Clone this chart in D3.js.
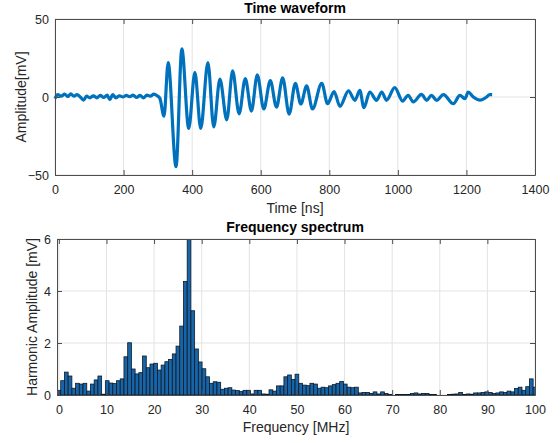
<!DOCTYPE html>
<html>
<head>
<meta charset="utf-8">
<script src="https://cdn.jsdelivr.net/npm/d3@7"></script>
<style>
  body { margin: 0; background: #fff; }
  svg { display: block; font-family: "Liberation Sans", Arial, sans-serif; }
  .tick text { fill: #262626; }
</style>
</head>
<body>
<svg width="560" height="443"></svg>
<script>
// time waveform (extrema and noise points)
var timeNs = [0, 8, 18, 28, 38, 46, 55, 64, 74, 83, 92, 102, 112, 122, 132, 142, 152, 160, 168, 178,
  188, 198, 208, 218, 228, 238, 248, 258, 268, 278, 288, 298, 306, 318, 330, 353, 370, 390, 408, 425,
  446, 463, 481, 501, 518, 537, 555, 573, 590, 609, 628, 646, 664, 683, 701, 717, 734, 751, 778, 795,
  814, 831, 856, 875, 889, 901, 918, 938, 953, 967, 991, 1014, 1030, 1045, 1069, 1084, 1098, 1113, 1133, 1162,
  1181, 1196, 1205, 1220, 1240, 1259, 1268, 1275];
var amplitudeMv = [-1, 1.5, 0.5, 1.8, 0.3, 2, 0.5, 1.5, 0, -2, 0.5, -0.5, 0.8, -0.5, 1, -0.3, 1.2, -1.7, 1.5, -0.5,
  0.8, 0, 1, 0.2, 1.2, -0.3, 1, -0.5, 1.2, 0.5, 1.8, 0.8, -1, -12.3, 22, -44.7, 30.8, -20.2, 15.8, -20.2,
  22, -19.2, 11.4, -14.6, 16.7, -10.8, 11.8, -9, 14.2, -7.7, 10.5, -6.5, 12.2, -11, 8.8, -4.5, 7.1, -7.7, 8.8, -4.3,
  3.5, -6, 3.9, -2.1, 4.3, -6.9, 3.2, -2.1, 3.2, -2.1, 6, -2.6, 1.1, -3.2, 1.7, -2.1, 1.1, -2.1, 1.5, -4.3,
  1.1, -1.1, 3.2, 0, -2, 0, 1.5, 1.5];

// spectrum, one bar per 0.78125 MHz bin
var binMHz = 0.78125;
var spectrumMv = [
  0.18, 0.55, 0.88, 0.73, 0.26, 0.45, 0.42, 0.45, 0.15, 0.42,
  0.58, 0.73, 0.03, 0.55, 0.46, 0.44, 0.55, 0.62, 1.47, 2.01,
  1.0, 0.81, 0.86, 1.5, 1.05, 1.19, 1.22, 0.96, 1.15, 1.28,
  1.37, 1.58, 1.88, 2.65, 4.37, 6.05, 3.24, 1.77, 1.27, 1.01,
  0.7, 0.45, 0.51, 0.49, 0.22, 0.26, 0.28, 0.19, 0.17, 0.13,
  0.18, 0.18, 0.04, 0.18, 0.18, 0.04, 0.03, 0.2, 0.15, 0.35,
  0.35, 0.7, 0.77, 0.6, 0.8, 0.45, 0.38, 0.36, 0.45, 0.42,
  0.26, 0.3, 0.28, 0.35, 0.4, 0.45, 0.52, 0.42, 0.3, 0.28,
  0.3, 0.08, 0.1, 0.1, 0.06, 0.12, 0.04, 0.12, 0.06, 0.02,
  0.0, 0.02, 0.02, 0.02, 0.02, 0.06, 0.08, 0.04, 0.06, 0.06,
  0.02, 0.02, 0.0, 0.0, 0.0, 0.02, 0.03, 0.04, 0.1, 0.02,
  0.04, 0.03, 0.08, 0.08, 0.1, 0.12, 0.1, 0.06, 0.08, 0.12,
  0.1, 0.15, 0.12, 0.25, 0.3, 0.18, 0.32, 0.62, 0.3];

var timeTicks = [0, 200, 400, 600, 800, 1000, 1200, 1400];
var ampTicks = [-50, 0, 50];
var freqTicks = [0, 10, 20, 30, 40, 50, 60, 70, 80, 90, 100];
var specTicks = [0, 2, 4, 6];

var svg = d3.select("svg");
svg.append("rect").attr("width", 560).attr("height", 443).attr("fill", "#fff");

var blue = "#0072BD", axisCol = "#4d4d4d", gridCol = "#e3e3e3";
var fmt = d3.format("d");

function drawFrame(g, x, y, xt, yt, w, h) {
  // grid
  g.append("g").selectAll("line").data(xt).join("line")
    .attr("x1", d => x(d)).attr("x2", d => x(d)).attr("y1", 0).attr("y2", h)
    .attr("stroke", gridCol);
  g.append("g").selectAll("line").data(yt).join("line")
    .attr("x1", 0).attr("x2", w).attr("y1", d => y(d)).attr("y2", d => y(d))
    .attr("stroke", gridCol);
}

function drawAxes(g, x, y, xt, yt, w, h) {
  var ax = [
    g.append("g").attr("transform", "translate(0," + h + ")")
      .call(d3.axisBottom(x).tickValues(xt).tickFormat(fmt).tickSizeInner(-5).tickSizeOuter(0).tickPadding(10)),
    g.append("g").call(d3.axisTop(x).tickValues(xt).tickSizeInner(-5).tickSizeOuter(0).tickFormat("")),
    g.append("g").call(d3.axisLeft(y).tickValues(yt).tickFormat(fmt).tickSizeInner(-5).tickSizeOuter(0).tickPadding(6)),
    g.append("g").attr("transform", "translate(" + w + ",0)")
      .call(d3.axisRight(y).tickValues(yt).tickSizeInner(-5).tickSizeOuter(0).tickFormat(""))
  ];
  ax.forEach(function(a) {
    a.selectAll("path, line").attr("stroke", axisCol);
    a.selectAll("text").style("font-size", "12.5px");
  });
}

// ---- top: time waveform
var t = {left: 55, top: 19, w: 480, h: 156};
var x1 = d3.scaleLinear().domain([0, 1400]).range([0, t.w]);
var y1 = d3.scaleLinear().domain([-50, 50]).range([t.h, 0]);
var g1 = svg.append("g").attr("transform", "translate(" + t.left + "," + t.top + ")");
drawFrame(g1, x1, y1, timeTicks, ampTicks, t.w, t.h);

var wave = timeNs.map((d, i) => [d, amplitudeMv[i]]);
g1.append("path").datum(wave)
  .attr("fill", "none").attr("stroke", blue).attr("stroke-width", 3.2)
  .attr("stroke-linejoin", "round")
  .attr("d", d3.line().x(d => x1(d[0])).y(d => y1(d[1])).curve(d3.curveMonotoneX));
drawAxes(g1, x1, y1, timeTicks, ampTicks, t.w, t.h);

svg.append("text").attr("x", 295).attr("y", 13).attr("text-anchor", "middle")
  .style("font-size", "14px").style("font-weight", "bold").text("Time waveform");
svg.append("text").attr("x", 295).attr("y", 213).attr("text-anchor", "middle")
  .style("font-size", "14px").attr("fill", "#262626").text("Time [ns]");
svg.append("text").attr("transform", "translate(26," + (t.top + t.h / 2) + ") rotate(-90)")
  .attr("text-anchor", "middle").style("font-size", "14px").attr("fill", "#262626").text("Amplitude[mV]");

// ---- bottom: frequency spectrum
var b = {left: 57, top: 239, w: 478, h: 156};
var x2 = d3.scaleLinear().domain([-binMHz / 2, 100]).range([0, b.w]);
var y2 = d3.scaleLinear().domain([0, 6]).range([b.h, 0]);
var g2 = svg.append("g").attr("transform", "translate(" + b.left + "," + b.top + ")");
svg.append("clipPath").attr("id", "specclip").append("rect").attr("width", b.w).attr("height", b.h);
drawFrame(g2, x2, y2, freqTicks, specTicks, b.w, b.h);

var bw = x2(binMHz) - x2(0);
g2.append("g").attr("clip-path", "url(#specclip)")
  .selectAll("rect").data(spectrumMv).join("rect")
  .attr("x", (d, i) => x2(i * binMHz) - bw / 2)
  .attr("width", bw)
  .attr("y", d => y2(d))
  .attr("height", d => y2(0) - y2(d))
  .attr("fill", "#1765a8").attr("stroke", "#0d1a26").attr("stroke-width", 0.8);
drawAxes(g2, x2, y2, freqTicks, specTicks, b.w, b.h);

svg.append("text").attr("x", 295).attr("y", 232).attr("text-anchor", "middle")
  .style("font-size", "14px").style("font-weight", "bold").text("Frequency spectrum");
svg.append("text").attr("x", 296).attr("y", 432).attr("text-anchor", "middle")
  .style("font-size", "14px").attr("fill", "#262626").text("Frequency [MHz]");
svg.append("text").attr("transform", "translate(37," + (b.top + b.h / 2) + ") rotate(-90)")
  .attr("text-anchor", "middle").style("font-size", "14px").attr("fill", "#262626").text("Harmonic Amplitude [mV]");
</script>
</body>
</html>
